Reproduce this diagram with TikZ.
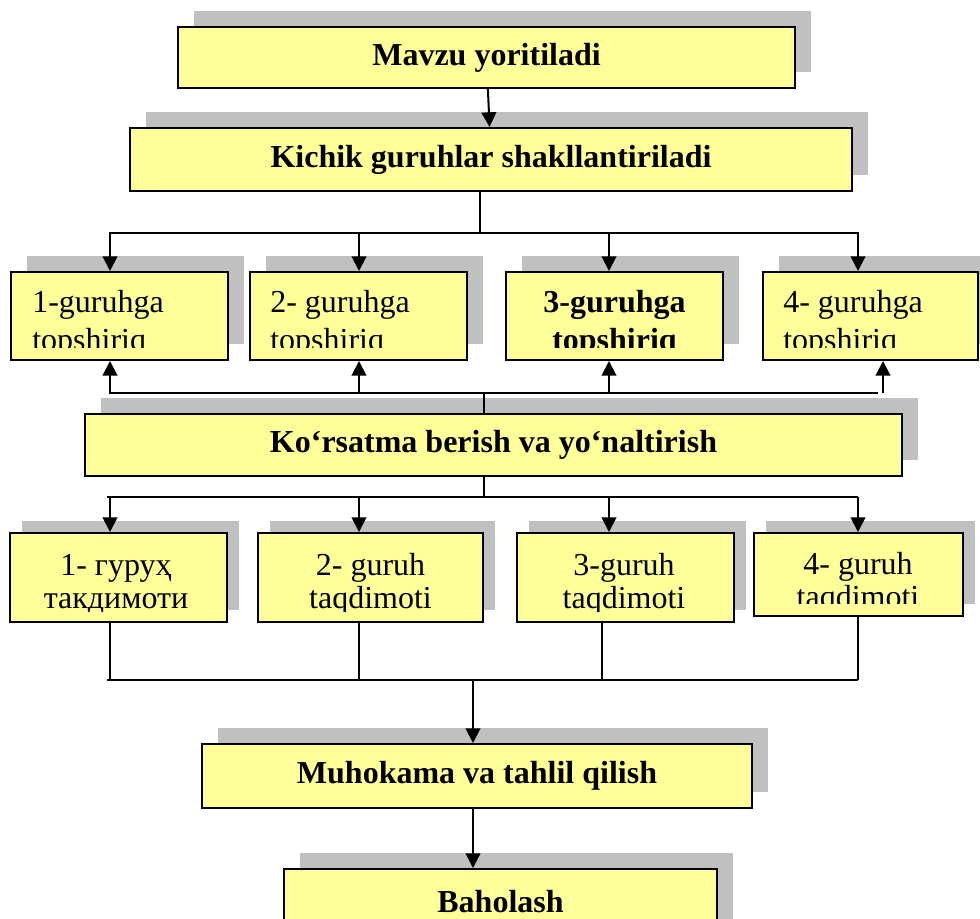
\documentclass[tikz,border=0pt]{standalone}
\usepackage{fontspec}
\setmainfont{Liberation Serif}
\usetikzlibrary{arrows.meta,shadows}
\definecolor{boxyellow}{HTML}{FFFF99}
\definecolor{shadowgray}{HTML}{C0C0C0}

\begin{document}
\begin{tikzpicture}[x=0.75pt,y=-0.75pt,
    box/.style={draw,fill=boxyellow,line width=1.5pt,inner sep=0pt,
      drop shadow={shadow xshift=#1,shadow yshift=#1,fill=shadowgray,opacity=1}},
    box/.default=12pt,
    bold/.style={font=\fontsize{24}{28}\selectfont\bfseries},
    txt/.style={inner sep=0pt,font=\fontsize{24}{28}\selectfont},
    ln/.style={line width=1.5pt},
    thinln/.style={line width=1.1pt},
    arr/.style={line width=1.5pt,-{Triangle[length=11pt,width=11pt]}}]

  \path[use as bounding box] (0,0) rectangle (980,919);
  \clip (0,0) rectangle (980,919);

  \node[box,bold,minimum width=462.75pt,minimum height=45.75pt] (mavzu) at (486.5,57.5) {Mavzu yoritiladi};
  \node[box,bold,minimum width=541.5pt,minimum height=47.25pt] (kichik) at (491,159.5) {Kichik guruhlar shakllantiriladi};

  \foreach \n/\x/\w in {g1/119/162.75,g2/358.5/162.75,g3/614.5/162.75,g4/870.5/161.25}
    \node[box,minimum width=\w pt,minimum height=66pt] (\n) at (\x,316) {};

  \node[box,bold,minimum width=612.75pt,minimum height=46.5pt] (korsat) at (493.5,445) {Ko‘rsatma berish va yo‘naltirish};

  \foreach \n/\x/\w in {t1/118.5/162.75,t2/370.5/168.75,t3/625.5/162.75}
    \node[box=9pt,minimum width=\w pt,minimum height=66.75pt] (\n) at (\x,577.5) {};
  \node[box=9pt,minimum width=156.75pt,minimum height=62.25pt] (t4) at (858.5,574.5) {};

  \node[box,bold,minimum width=412.5pt,minimum height=48pt] (muhok) at (477,776) {Muhokama va tahlil qilish};
  \node[box,bold,minimum width=324.75pt,minimum height=49.5pt] (baho) at (500.5,902) {Baholash};

  \begin{scope}
    \clip (0,240) rectangle (980,348);
    \node[txt,anchor=base west,align=left] (g1t) at (32,350) {1-guruhga\\topshiriq};
    \node[txt,anchor=base west,align=left] (g2t) at (270,350) {2- guruhga\\topshiriq};
    \node[txt,bold,inner sep=0pt,anchor=base,align=center] (g3t) at (614.5,350) {3-guruhga\\topshiriq};
    \node[txt,anchor=base west,align=left] (g4t) at (783,350) {4- guruhga\\topshiriq};
  \end{scope}

  \begin{scope}
    \clip (0,500) rectangle (745,611) (748,500) rectangle (980,603);
    \node[txt,font=\fontsize{24}{24.75}\selectfont,anchor=base,align=center] (t1t) at (116,608) {1- гуруҳ\\такдимоти};
    \node[txt,font=\fontsize{24}{24.75}\selectfont,anchor=base,align=center] (t2t) at (370.5,608) {2- guruh\\taqdimoti};
    \node[txt,font=\fontsize{24}{24.75}\selectfont,anchor=base,align=center] (t3t) at (624,608) {3-guruh\\taqdimoti};
    \node[txt,font=\fontsize{24}{24.75}\selectfont,anchor=base,align=center] (t4t) at (858,607) {4- guruh\\taqdimoti};
  \end{scope}

  \draw[arr] (mavzu) -- (kichik);

  \draw[ln] ([xshift=-8pt]kichik.south) -- ++(0,41) coordinate (b1);
  \draw[ln] (109,0 |- b1) -- (859,0 |- b1);
  \foreach \n/\x in {g1/110,g2/359,g3/609,g4/858}
    \draw[arr] (\x,0 |- b1) -- (\x,0 |- \n.north);

  \draw[ln] ([xshift=-7pt]korsat.north) -- ++(0,-20) coordinate (b2);
  \draw[ln] (109,0 |- b2) -- (878,0 |- b2);
  \foreach \n/\x in {g1/110,g2/359,g3/609,g4/883}
    \draw[arr] (\x,0 |- b2) -- (\x,0 |- \n.south);

  \draw[ln] ([xshift=-7pt]korsat.south) -- ++(0,20) coordinate (b3);
  \draw[ln] (107,0 |- b3) -- (858,0 |- b3);
  \foreach \n/\x in {t1/110,t2/359,t3/609,t4/858}
    \draw[arr] (\x,0 |- b3) -- (\x,0 |- \n.north);

  \coordinate (b4) at (0,680);
  \foreach \n/\x in {t1/110,t2/359,t3/602,t4/858}
    \draw[thinln] (\x,0 |- \n.south) -- (\x,0 |- b4);
  \draw[thinln] (107,0 |- b4) -- (858,0 |- b4);
  \draw[arr] (473,0 |- b4) -- (473,0 |- muhok.north);
  \draw[arr] (473,0 |- muhok.south) -- (473,0 |- baho.north);
\end{tikzpicture}
\end{document}
